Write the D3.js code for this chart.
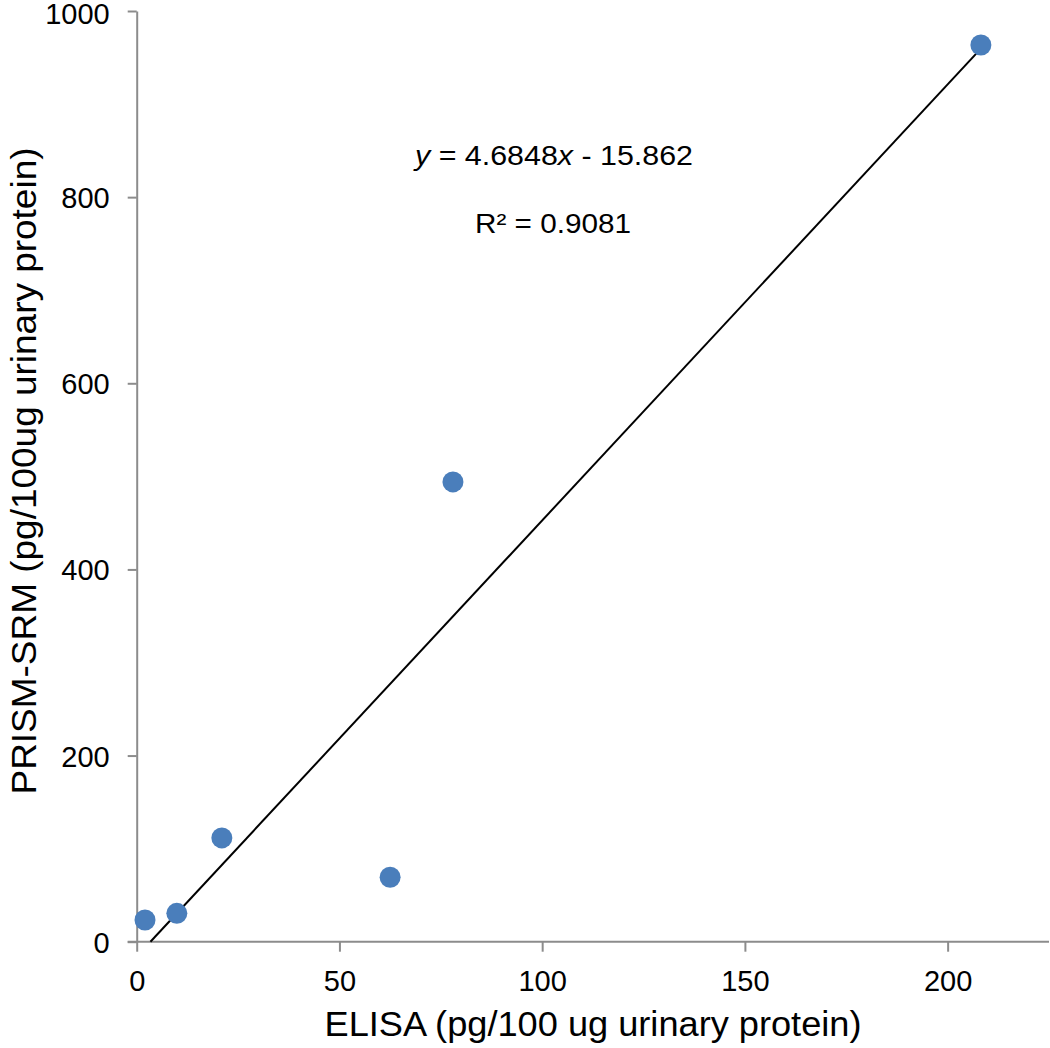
<!DOCTYPE html>
<html><head><meta charset="utf-8">
<script src="https://cdn.jsdelivr.net/npm/d3@7"></script>
<style>body{margin:0;background:#fff}svg{display:block}text{font-family:"Liberation Sans",Arial,sans-serif;fill:#000}</style>
</head><body>
<svg id="c" width="1050" height="1048"></svg>
<script>
const elisa = [2.05, 9.9, 21.0, 62.5, 78.0, 208.2];
const prism = [23.3, 30.5, 111.5, 69.2, 494, 963.5];
const xTicks = [0, 50, 100, 150, 200];
const yTicks = [0, 200, 400, 600, 800, 1000];
const slope = 4.6848, intercept = -15.862;
const eqText = "4.6848";
const r2Text = "R² = 0.9081";
const xTitle = "ELISA (pg/100 ug urinary protein)";
const yTitle = "PRISM-SRM (pg/100ug urinary protein)";

const svg = d3.select("#c");
const x = d3.scaleLinear().domain([0, 225]).range([136.7, 1049]);
const y = d3.scaleLinear().domain([0, 1000]).range([941.7, 11]);
const axisColor = "#8c8c8c";

const gx = svg.append("g").attr("transform", `translate(0,${y(0)})`)
  .call(d3.axisBottom(x).tickValues(xTicks).tickFormat(d3.format("d")).tickSize(10).tickSizeOuter(0).tickPadding(18));
const gy = svg.append("g").attr("transform", `translate(${x(0)},0)`)
  .call(d3.axisLeft(y).tickValues(yTicks).tickFormat(d3.format("d")).tickSize(9).tickSizeOuter(0).tickPadding(18));
[gx, gy].forEach(g => {
  g.select(".domain").attr("stroke", axisColor).attr("stroke-width", 2);
  g.selectAll(".tick line").attr("stroke", axisColor).attr("stroke-width", 2);
  g.selectAll(".tick text").style("font-size", "29px").style("font-family", "'Liberation Sans', Arial, sans-serif").attr("fill", "#000");
});
gx.select(".domain").attr("d", `M${x(0)-9},0H${x(225)}`);
gx.selectAll(".tick text").attr("dy", "0.72em");
gy.selectAll(".tick text").attr("dy", d => d === 1000 ? "0.42em" : "0.36em");

// trendline
const x0 = -intercept / slope;
const x1 = d3.max(elisa);
svg.append("line")
  .attr("x1", x(x0)).attr("y1", y(slope * x0 + intercept))
  .attr("x2", x(x1)).attr("y2", y(slope * x1 + intercept))
  .attr("stroke", "#000").attr("stroke-width", 2);

// points
svg.append("g").selectAll("circle").data(elisa.map((v, i) => [v, prism[i]]))
  .join("circle")
  .attr("cx", d => x(d[0])).attr("cy", d => y(d[1])).attr("r", 10.5)
  .attr("fill", "#4a7ebb");

// equation
const eq = svg.append("text").attr("x", 554).attr("y", 165).attr("text-anchor", "middle")
  .style("font-size", "28px").attr("textLength", 278).attr("lengthAdjust", "spacingAndGlyphs");
eq.append("tspan").attr("font-style", "italic").text("y");
eq.append("tspan").text(" = " + eqText);
eq.append("tspan").attr("font-style", "italic").text("x");
eq.append("tspan").text(" - " + Math.abs(intercept).toFixed(3));
svg.append("text").attr("x", 553).attr("y", 233).attr("text-anchor", "middle").style("font-size", "28px")
  .attr("textLength", 156).attr("lengthAdjust", "spacingAndGlyphs").text(r2Text);

// titles
svg.append("text").attr("x", 593).attr("y", 1036).attr("text-anchor", "middle").style("font-size", "35px")
  .attr("textLength", 537).attr("lengthAdjust", "spacingAndGlyphs").text(xTitle);
svg.append("text").attr("transform", "translate(36,471) rotate(-90)").attr("text-anchor", "middle").style("font-size", "35px")
  .attr("textLength", 647).attr("lengthAdjust", "spacingAndGlyphs").text(yTitle);
</script>
</body></html>
